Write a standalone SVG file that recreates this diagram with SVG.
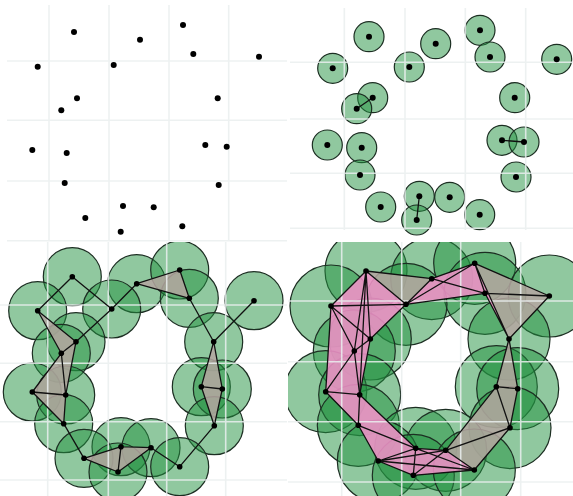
<svg xmlns="http://www.w3.org/2000/svg" width="573" height="496" viewBox="0 0 573 496">
<style>
.grid{stroke:#eaeeee;stroke-width:1.6;opacity:0.85;fill:none}
.ball{fill:#229140;fill-opacity:0.5;stroke:#1c2e22;stroke-width:1.2}
.pt{fill:#000}
.edge{stroke:#111;stroke-width:1.3;fill:none;stroke-linejoin:round}
.gray{fill:#b5a6a1;fill-opacity:0.85}
.pink{fill:#f092c8;fill-opacity:0.88}
</style>
<defs>
<clipPath id="c3"><rect x="0" y="242" width="287" height="254"/></clipPath>
<clipPath id="c4"><rect x="288" y="242" width="285" height="254"/></clipPath>
</defs>
<rect width="573" height="496" fill="#fff"/>

<!-- Panel 1: points -->
<g id="panel1">
<g id="grid1" class="grid">
<path d="M49 5V241M109 5V241M169 5V241M228.7 5V241M7 61H287M7 120.3H287M7 181H287M7 240.7H287"/>
</g>
<g id="points1" class="pt">
<circle cx="74" cy="32" r="3"/><circle cx="140" cy="39.7" r="3"/><circle cx="183" cy="25" r="3"/>
<circle cx="193.3" cy="54" r="3"/><circle cx="259" cy="56.7" r="3"/><circle cx="37.7" cy="66.7" r="3"/>
<circle cx="113.7" cy="65" r="3"/><circle cx="77" cy="98.3" r="3"/><circle cx="61.3" cy="110.3" r="3"/>
<circle cx="217.7" cy="98.3" r="3"/><circle cx="32.3" cy="150" r="3"/><circle cx="66.7" cy="153" r="3"/>
<circle cx="205.3" cy="145" r="3"/><circle cx="226.7" cy="146.7" r="3"/><circle cx="64.7" cy="183" r="3"/>
<circle cx="218.7" cy="185" r="3"/><circle cx="123" cy="206" r="3"/><circle cx="153.7" cy="207.3" r="3"/>
<circle cx="85.3" cy="218" r="3"/><circle cx="120.7" cy="231.7" r="3"/><circle cx="182.3" cy="226.3" r="3"/>
</g>
</g>

<!-- Panel 2: small balls -->
<g id="panel2">
<g id="balls2" class="ball">
<circle cx="369" cy="36.7" r="15"/><circle cx="435.7" cy="43.7" r="15"/><circle cx="480" cy="30.3" r="15"/>
<circle cx="490" cy="57" r="15"/><circle cx="556.7" cy="59.3" r="15"/><circle cx="332.7" cy="68.3" r="15"/>
<circle cx="409.3" cy="67" r="15"/><circle cx="372.7" cy="97.7" r="15"/><circle cx="356.7" cy="108.7" r="15"/>
<circle cx="514.7" cy="97.7" r="15"/><circle cx="327.3" cy="145" r="15"/><circle cx="361.7" cy="147.7" r="15"/>
<circle cx="502" cy="140.3" r="15"/><circle cx="524" cy="142" r="15"/><circle cx="360" cy="175" r="15"/>
<circle cx="516" cy="177" r="15"/><circle cx="419.3" cy="196.3" r="15"/><circle cx="449.7" cy="197.3" r="15"/>
<circle cx="380.7" cy="207" r="15"/><circle cx="416.7" cy="220" r="15"/><circle cx="479.7" cy="214.7" r="15"/>
</g>
<g id="grid2" class="grid">
<path d="M344.3 8V230M405 8V230M465.3 8V230M525.7 8V230M290 62.3H573M290 119H573M290 173.3H573M290 228.3H573"/>
</g>
<g id="edges2" class="edge">
<path d="M372.7 97.7L356.7 108.7M502 140.3L524 142M419.3 196.3L416.7 220"/>
</g>
<g id="points2" class="pt">
<circle cx="369" cy="36.7" r="3"/><circle cx="435.7" cy="43.7" r="3"/><circle cx="480" cy="30.3" r="3"/>
<circle cx="490" cy="57" r="3"/><circle cx="556.7" cy="59.3" r="3"/><circle cx="332.7" cy="68.3" r="3"/>
<circle cx="409.3" cy="67" r="3"/><circle cx="372.7" cy="97.7" r="3"/><circle cx="356.7" cy="108.7" r="3"/>
<circle cx="514.7" cy="97.7" r="3"/><circle cx="327.3" cy="145" r="3"/><circle cx="361.7" cy="147.7" r="3"/>
<circle cx="502" cy="140.3" r="3"/><circle cx="524" cy="142" r="3"/><circle cx="360" cy="175" r="3"/>
<circle cx="516" cy="177" r="3"/><circle cx="419.3" cy="196.3" r="3"/><circle cx="449.7" cy="197.3" r="3"/>
<circle cx="380.7" cy="207" r="3"/><circle cx="416.7" cy="220" r="3"/><circle cx="479.7" cy="214.7" r="3"/>
</g>
</g>

<!-- Panel 3: medium balls with complex -->
<g id="panel3" clip-path="url(#c3)">
<g id="balls3" class="ball">
<circle cx="72.3" cy="276.7" r="29"/><circle cx="136.7" cy="283.7" r="29"/><circle cx="179.7" cy="270" r="29"/>
<circle cx="189.3" cy="298.3" r="29"/><circle cx="254" cy="300.7" r="29"/><circle cx="37.7" cy="310.7" r="29"/>
<circle cx="111.7" cy="309" r="29"/><circle cx="76" cy="341.7" r="29"/><circle cx="61.3" cy="353.3" r="29"/>
<circle cx="213.7" cy="341.7" r="29"/><circle cx="32.3" cy="392" r="29"/><circle cx="65.7" cy="395" r="29"/>
<circle cx="201.3" cy="386.7" r="29"/><circle cx="222.3" cy="389" r="29"/><circle cx="63.7" cy="423.7" r="29"/>
<circle cx="214.3" cy="425.7" r="29"/><circle cx="121" cy="446.7" r="29"/><circle cx="151" cy="447.7" r="29"/>
<circle cx="84" cy="458.3" r="29"/><circle cx="118" cy="472" r="29"/><circle cx="179.7" cy="466.7" r="29"/>
</g>
<g id="faces3">
<polygon class="gray" points="136.7,283.7 179.7,270 189.3,298.3"/>
<polygon class="gray" points="37.7,310.7 76,341.7 65.7,395 63.7,423.7 32.3,392 61.3,353.3"/>
<polygon class="gray" points="84,458.3 121,446.7 151,447.7 118,472"/>
<polygon class="gray" points="213.7,341.7 222.3,389 214.3,425.7 201.3,386.7"/>
</g>
<g id="grid3" class="grid">
<path d="M47.7 242V496M108.3 242V496M166.7 242V496M225.7 242V496M0 305H287M0 363.3H287M0 421.7H287M0 480H287"/>
</g>
<g id="edges3" class="edge">
<path d="M72.3 276.7L37.7 310.7M72.3 276.7L111.7 309M111.7 309L136.7 283.7M111.7 309L76 341.7M189.3 298.3L213.7 341.7M254 300.7L213.7 341.7M63.7 423.7L84 458.3M151 447.7L179.7 466.7M179.7 466.7L214.3 425.7"/>
<path d="M136.7 283.7L179.7 270L189.3 298.3Z"/>
<path d="M37.7 310.7L76 341.7L61.3 353.3ZM76 341.7L65.7 395M61.3 353.3L65.7 395M61.3 353.3L32.3 392L65.7 395M32.3 392L63.7 423.7L65.7 395"/>
<path d="M84 458.3L121 446.7L118 472ZM121 446.7L151 447.7L118 472"/>
<path d="M213.7 341.7L201.3 386.7L222.3 389ZM201.3 386.7L214.3 425.7L222.3 389"/>
</g>
<g id="points3" class="pt">
<circle cx="72.3" cy="276.7" r="2.8"/><circle cx="136.7" cy="283.7" r="2.8"/><circle cx="179.7" cy="270" r="2.8"/>
<circle cx="189.3" cy="298.3" r="2.8"/><circle cx="254" cy="300.7" r="2.8"/><circle cx="37.7" cy="310.7" r="2.8"/>
<circle cx="111.7" cy="309" r="2.8"/><circle cx="76" cy="341.7" r="2.8"/><circle cx="61.3" cy="353.3" r="2.8"/>
<circle cx="213.7" cy="341.7" r="2.8"/><circle cx="32.3" cy="392" r="2.8"/><circle cx="65.7" cy="395" r="2.8"/>
<circle cx="201.3" cy="386.7" r="2.8"/><circle cx="222.3" cy="389" r="2.8"/><circle cx="63.7" cy="423.7" r="2.8"/>
<circle cx="214.3" cy="425.7" r="2.8"/><circle cx="121" cy="446.7" r="2.8"/><circle cx="151" cy="447.7" r="2.8"/>
<circle cx="84" cy="458.3" r="2.8"/><circle cx="118" cy="472" r="2.8"/><circle cx="179.7" cy="466.7" r="2.8"/>
</g>
</g>

<!-- Panel 4: large balls with complex -->
<g id="panel4" clip-path="url(#c4)">
<g id="balls4" class="ball">
<circle cx="366" cy="271" r="41"/><circle cx="431.7" cy="278.7" r="41"/><circle cx="474.7" cy="263.3" r="41"/>
<circle cx="485" cy="293.3" r="41"/><circle cx="549.3" cy="296" r="41"/><circle cx="331" cy="306" r="41"/>
<circle cx="406" cy="304.3" r="41"/><circle cx="370.3" cy="339" r="41"/><circle cx="354.3" cy="351" r="41"/>
<circle cx="509" cy="339" r="41"/><circle cx="325.7" cy="391.7" r="41"/><circle cx="359.7" cy="394.7" r="41"/>
<circle cx="496.3" cy="386.7" r="41"/><circle cx="517.7" cy="388.7" r="41"/><circle cx="358.3" cy="425.3" r="41"/>
<circle cx="510" cy="427.7" r="41"/><circle cx="415.7" cy="448.3" r="41"/><circle cx="445.7" cy="450.3" r="41"/>
<circle cx="378.3" cy="461" r="41"/><circle cx="413.3" cy="475.3" r="41"/><circle cx="474.3" cy="470" r="41"/>
</g>
<g id="faces4">
<polygon class="gray" points="366,271 431.7,278.7 406,304.3"/>
<polygon class="gray" points="474.7,263.3 549.3,296 509,339"/>
<polygon class="gray" points="509,339 496.3,386.7 517.7,388.7"/>
<polygon class="gray" points="445.7,450.3 496.3,386.7 517.7,388.7 510,427.7 474.3,470"/>
<polygon class="pink" points="366,271 406,304.3 370.3,339 359.7,394.7 415.7,448.3 445.7,450.3 474.3,470 413.3,475.3 378.3,461 358.3,425.3 325.7,391.7 331,306"/>
<polygon class="pink" points="406,304.3 431.7,278.7 474.7,263.3 485,293.3"/>
<polygon class="pink" points="474.7,263.3 485,293.3 509,339"/>
</g>
<g id="grid4" class="grid">
<path d="M341.7 242V496M401.7 242V496M460.7 242V496M520.7 242V496M288 301H573M288 361.7H573M288 421.7H573M288 482H573"/>
</g>
<g id="edges4" class="edge">
<path d="M366 271L431.7 278.7M366 271L331 306M366 271L406 304.3M366 271L370.3 339M366 271L354.3 351M366 271L359.7 394.7M431.7 278.7L406 304.3M431.7 278.7L474.7 263.3M431.7 278.7L485 293.3M474.7 263.3L485 293.3M474.7 263.3L549.3 296M474.7 263.3L406 304.3M485 293.3L406 304.3M485 293.3L549.3 296M474.7 263.3L509 339M485 293.3L509 339M549.3 296L509 339"/>
<path d="M331 306L406 304.3M331 306L370.3 339M331 306L354.3 351M331 306L325.7 391.7M406 304.3L370.3 339M370.3 339L354.3 351M370.3 339L359.7 394.7M354.3 351L325.7 391.7M354.3 351L359.7 394.7M325.7 391.7L359.7 394.7M325.7 391.7L358.3 425.3M359.7 394.7L358.3 425.3M359.7 394.7L415.7 448.3"/>
<path d="M358.3 425.3L415.7 448.3M358.3 425.3L378.3 461M415.7 448.3L378.3 461M415.7 448.3L413.3 475.3M378.3 461L413.3 475.3M415.7 448.3L445.7 450.3M445.7 450.3L413.3 475.3M445.7 450.3L378.3 461M415.7 448.3L474.3 470M378.3 461L474.3 470M413.3 475.3L474.3 470M445.7 450.3L474.3 470"/>
<path d="M445.7 450.3L496.3 386.7M445.7 450.3L510 427.7M510 427.7L474.3 470M496.3 386.7L510 427.7M517.7 388.7L510 427.7M496.3 386.7L517.7 388.7M509 339L496.3 386.7M509 339L517.7 388.7"/>
</g>
<g id="points4" class="pt">
<circle cx="366" cy="271" r="2.8"/><circle cx="431.7" cy="278.7" r="2.8"/><circle cx="474.7" cy="263.3" r="2.8"/>
<circle cx="485" cy="293.3" r="2.8"/><circle cx="549.3" cy="296" r="2.8"/><circle cx="331" cy="306" r="2.8"/>
<circle cx="406" cy="304.3" r="2.8"/><circle cx="370.3" cy="339" r="2.8"/><circle cx="354.3" cy="351" r="2.8"/>
<circle cx="509" cy="339" r="2.8"/><circle cx="325.7" cy="391.7" r="2.8"/><circle cx="359.7" cy="394.7" r="2.8"/>
<circle cx="496.3" cy="386.7" r="2.8"/><circle cx="517.7" cy="388.7" r="2.8"/><circle cx="358.3" cy="425.3" r="2.8"/>
<circle cx="510" cy="427.7" r="2.8"/><circle cx="415.7" cy="448.3" r="2.8"/><circle cx="445.7" cy="450.3" r="2.8"/>
<circle cx="378.3" cy="461" r="2.8"/><circle cx="413.3" cy="475.3" r="2.8"/><circle cx="474.3" cy="470" r="2.8"/>
</g>
</g>
</svg>
